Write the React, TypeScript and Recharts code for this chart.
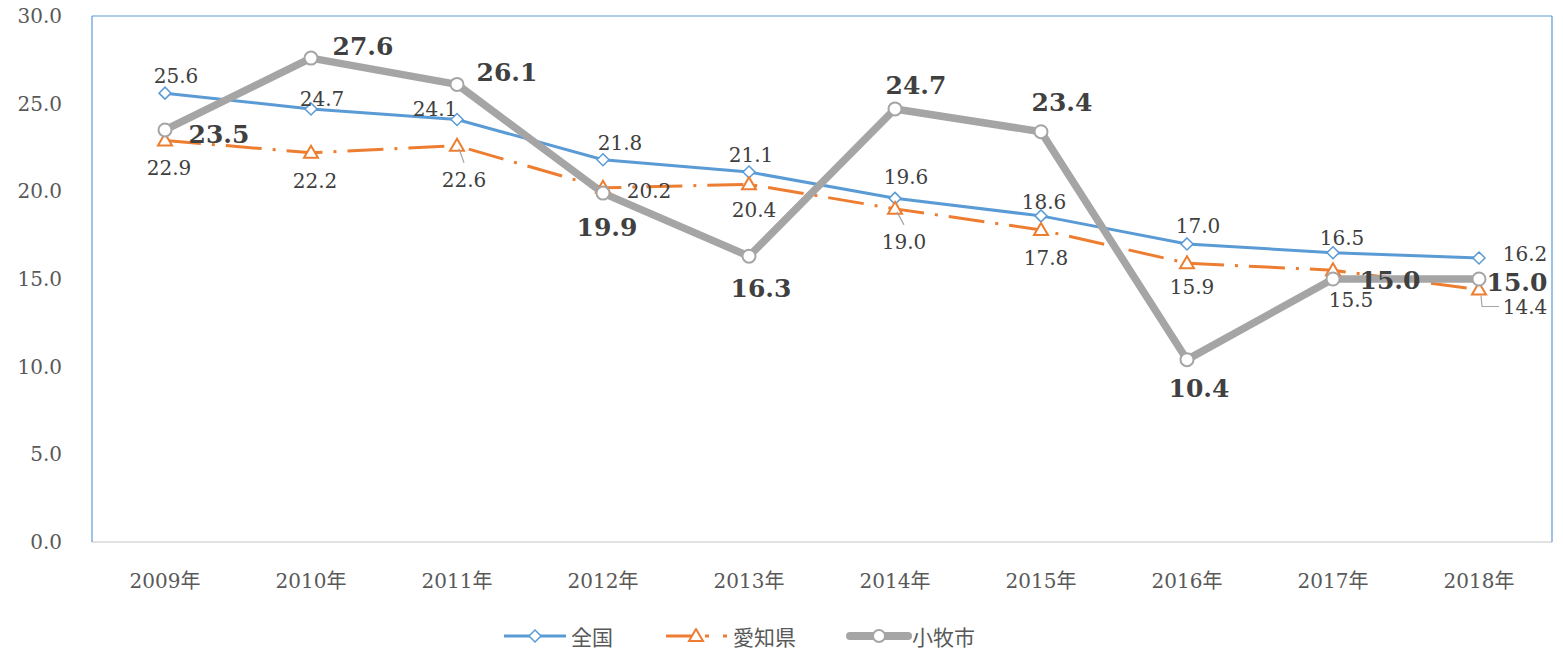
import React from "react"
import { LineChart, Line, XAxis, YAxis, Legend, LabelList } from "recharts"

const years = ["2009年", "2010年", "2011年", "2012年", "2013年", "2014年", "2015年", "2016年", "2017年", "2018年"]
const zenkoku = [25.6, 24.7, 24.1, 21.8, 21.1, 19.6, 18.6, 17.0, 16.5, 16.2]
const aichi = [22.9, 22.2, 22.6, 20.2, 20.4, 19.0, 17.8, 15.9, 15.5, 14.4]
const komaki = [23.5, 27.6, 26.1, 19.9, 16.3, 24.7, 23.4, 10.4, 15.0, 15.0]
const yTicks = [0, 5, 10, 15, 20, 25, 30]

// label placement relative to each point (dx, dy), kept apart from the values
const zenkokuLabelPos = [[11, -17], [11, -10], [-22, -10], [17, -17], [2, -17], [11, -21], [3, -14], [11, -18], [9, -15], [46, -4]]
const aichiLabelPos = [[4, 28], [4, 28], [7, 34], [46, 3], [5, 26], [9, 33], [5, 28], [5, 24], [18, 30], [46, 17]]
const komakiLabelPos = [[54, 5], [52, -12], [50, -12], [4, 34], [12, 32], [21, -23], [21, -29], [12, 29], [57, 1], [38, 3]]
const aichiLeaders: Record<number, string> = { 2: "down", 5: "down", 9: "elbow" }

const data = years.map((year, i) => ({
  year,
  zenkoku: zenkoku[i],
  aichi: aichi[i],
  komaki: komaki[i],
}))

const BLUE = "#5B9BD5"
const ORANGE = "#ED7D31"
const GRAY = "#A5A5A5"
const SERIF = "'DejaVu Serif', 'Noto Sans CJK JP', serif"

const DiamondDot = (props: any) => {
  const { cx, cy, index } = props
  if (cx == null || cy == null) return <g key={`dd-${index}`} />
  return (
    <path
      key={`dd-${index}`}
      d={`M${cx},${cy - 6} L${cx + 6},${cy} L${cx},${cy + 6} L${cx - 6},${cy} Z`}
      fill="#fff"
      stroke={BLUE}
      strokeWidth={1.5}
    />
  )
}

const TriangleDot = (props: any) => {
  const { cx, cy, index } = props
  if (cx == null || cy == null) return <g key={`td-${index}`} />
  return (
    <path
      key={`td-${index}`}
      d={`M${cx},${cy - 7} L${cx + 7},${cy + 5} L${cx - 7},${cy + 5} Z`}
      fill="#fff"
      stroke={ORANGE}
      strokeWidth={2}
    />
  )
}

const CircleDot = (props: any) => {
  const { cx, cy, index } = props
  if (cx == null || cy == null) return <g key={`cd-${index}`} />
  return <circle key={`cd-${index}`} cx={cx} cy={cy} r={6.5} fill="#fff" stroke={GRAY} strokeWidth={2} />
}

const makeLabel = (pos: number[][], big: boolean, leaders?: Record<number, string>) => (props: any) => {
  const x = props.x ?? props.viewBox?.x
  const y = props.y ?? props.viewBox?.y
  const { index, value } = props
  if (x == null || y == null) return null
  const [dx, dy] = pos[index] || [0, -15]
  const leader = leaders ? leaders[index] : undefined
  return (
    <g>
      {leader === "down" && (
        <line x1={x + 2} y1={y + 3} x2={x + dx} y2={y + dy - 17} stroke="#A6A6A6" strokeWidth={1.2} />
      )}
      {leader === "elbow" && (
        <polyline
          points={`${x + 2},${y + 6} ${x + 3},${y + dy} ${x + dx - 26},${y + dy}`}
          fill="none"
          stroke="#A6A6A6"
          strokeWidth={1.2}
        />
      )}
      <text
        x={x + dx}
        y={y + dy}
        textAnchor="middle"
        dominantBaseline="central"
        fontFamily={SERIF}
        fontSize={big ? 25 : 20}
        fontWeight={big ? "bold" : "normal"}
        fill="#404040"
      >
        {Number(value).toFixed(1)}
      </text>
    </g>
  )
}

const renderLegend = () => {
  const textStyle = { fontFamily: "'Noto Sans CJK JP', sans-serif", fontSize: 21, color: "#595959", marginLeft: 5 }
  return (
    <div style={{ display: "flex", justifyContent: "center", alignItems: "center", height: 28, paddingRight: 84 }}>
      <div style={{ display: "flex", alignItems: "center", marginRight: 53 }}>
        <svg width={62} height={16}>
          <line x1={0} y1={8} x2={62} y2={8} stroke={BLUE} strokeWidth={3} />
          <path d="M31,2 L37,8 L31,14 L25,8 Z" fill="#fff" stroke={BLUE} strokeWidth={1.5} />
        </svg>
        <span style={textStyle}>全国</span>
      </div>
      <div style={{ display: "flex", alignItems: "center", marginRight: 50 }}>
        <svg width={62} height={16}>
          <line x1={0} y1={8} x2={26} y2={8} stroke={ORANGE} strokeWidth={3} />
          <line x1={39} y1={8} x2={43} y2={8} stroke={ORANGE} strokeWidth={3} />
          <line x1={57} y1={8} x2={61} y2={8} stroke={ORANGE} strokeWidth={3} />
          <path d="M30,1 L37,13 L23,13 Z" fill="#fff" stroke={ORANGE} strokeWidth={2} />
        </svg>
        <span style={textStyle}>愛知県</span>
      </div>
      <div style={{ display: "flex", alignItems: "center" }}>
        <svg width={66} height={16}>
          <line x1={4} y1={8} x2={62} y2={8} stroke={GRAY} strokeWidth={8} strokeLinecap="round" />
          <circle cx={33} cy={8} r={6} fill="#fff" stroke={GRAY} strokeWidth={2} />
        </svg>
        <span style={{ ...textStyle, marginLeft: 0 }}>小牧市</span>
      </div>
    </div>
  )
}

export default function App() {
  return (
    <div style={{ position: "absolute", left: 0, top: 0, width: 1563, height: 650, background: "#fff" }}>
      <LineChart width={1563} height={650} data={data} margin={{ top: 15, right: 10, left: 0, bottom: 0 }}>
        <XAxis
          dataKey="year"
          scale="band"
          height={80}
          tickLine={false}
          tickMargin={26}
          axisLine={{ stroke: "#D9D9D9", strokeWidth: 1.5 }}
          tick={{ fontFamily: SERIF, fontSize: 20, fill: "#595959" }}
        />
        <XAxis
          xAxisId="top"
          dataKey="year"
          scale="band"
          orientation="top"
          height={1}
          tick={false}
          tickLine={false}
          axisLine={{ stroke: BLUE, strokeWidth: 1.2 }}
        />
        <YAxis
          domain={[0, 30]}
          ticks={yTicks}
          width={92}
          tickLine={false}
          tickSize={0}
          tickMargin={30}
          tickFormatter={(v: number) => v.toFixed(1)}
          axisLine={{ stroke: BLUE, strokeWidth: 1.2 }}
          tick={{ fontFamily: SERIF, fontSize: 20, fill: "#595959" }}
        />
        <YAxis
          yAxisId="right"
          orientation="right"
          domain={[0, 30]}
          width={1}
          tick={false}
          tickLine={false}
          axisLine={{ stroke: BLUE, strokeWidth: 1.2 }}
        />
        <Legend verticalAlign="bottom" height={28} content={renderLegend} wrapperStyle={{ left: 0, bottom: 0, width: 1563 }} />
        <Line
          dataKey="zenkoku"
          name="全国"
          type="linear"
          stroke={BLUE}
          strokeWidth={3}
          dot={DiamondDot}
          activeDot={false}
          isAnimationActive={false}
        >
          <LabelList dataKey="zenkoku" content={makeLabel(zenkokuLabelPos, false)} />
        </Line>
        <Line
          dataKey="aichi"
          name="愛知県"
          type="linear"
          stroke={ORANGE}
          strokeWidth={3}
          strokeDasharray="36 11 3 11"
          dot={TriangleDot}
          activeDot={false}
          isAnimationActive={false}
        >
          <LabelList dataKey="aichi" content={makeLabel(aichiLabelPos, false, aichiLeaders)} />
        </Line>
        <Line
          dataKey="komaki"
          name="小牧市"
          type="linear"
          stroke={GRAY}
          strokeWidth={7.5}
          strokeLinejoin="round"
          dot={CircleDot}
          activeDot={false}
          isAnimationActive={false}
        >
          <LabelList dataKey="komaki" content={makeLabel(komakiLabelPos, true)} />
        </Line>
      </LineChart>
    </div>
  )
}
